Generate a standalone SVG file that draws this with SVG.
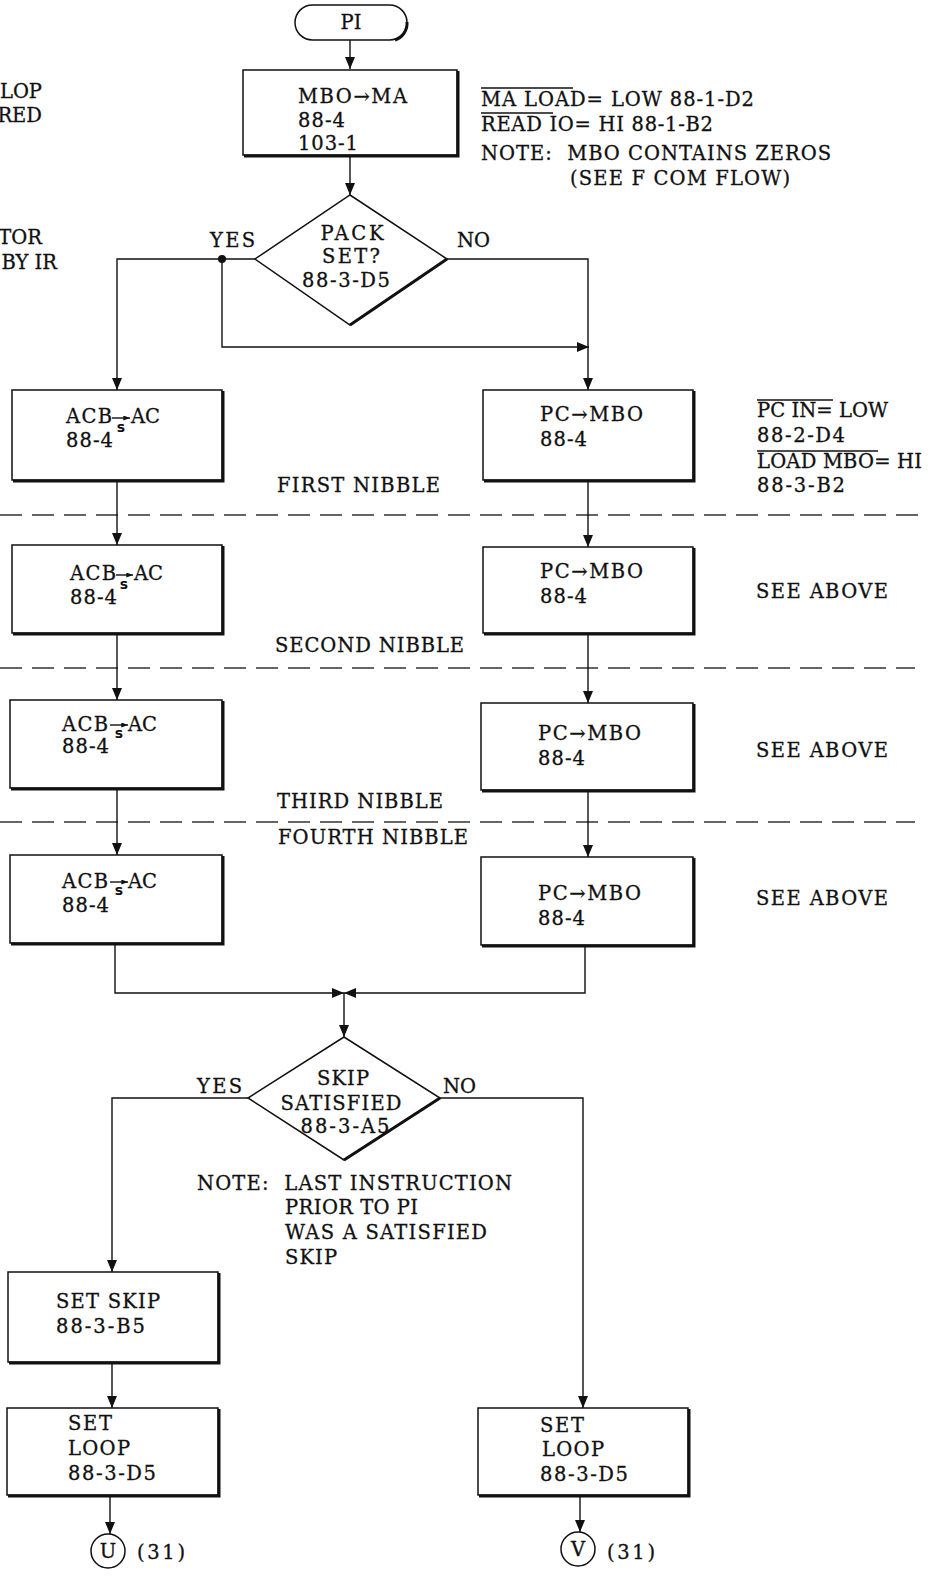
<svg xmlns="http://www.w3.org/2000/svg" width="941" height="1593" viewBox="0 0 941 1593">
<style>
.t{font-family:"DejaVu Serif","Liberation Serif",serif;font-size:19.5px;fill:#111;stroke:#111;stroke-width:0.3}
.s{font-family:"DejaVu Sans","Liberation Sans",sans-serif;font-size:14px;font-weight:bold;fill:#111}
.ln{stroke:#111;stroke-width:1.4;fill:none}
.box{fill:#fff;stroke:#111;stroke-width:1.5}
.sh{stroke:#111;stroke-width:3;fill:none}
.dash{stroke:#333;stroke-width:1.4;stroke-dasharray:22 10;fill:none}
.ov{stroke:#111;stroke-width:1.3}
</style>
<defs>
<marker id="ah" viewBox="0 0 12 10" refX="12" refY="5" markerWidth="12" markerHeight="10" markerUnits="userSpaceOnUse" orient="auto"><path d="M0,0 L12,5 L0,10 z" fill="#111"/></marker>
<marker id="sa" viewBox="0 0 8 6" refX="8" refY="3" markerWidth="7" markerHeight="5" markerUnits="userSpaceOnUse" orient="auto"><path d="M0,0 L8,3 L0,6 z" fill="#111"/></marker>
</defs>
<rect width="941" height="1593" fill="#fff"/>

<g id="edge">
<text class="t" x="42" y="98" text-anchor="end">LOP</text>
<text class="t" x="42" y="122" text-anchor="end">RED</text>
<text class="t" x="42" y="244" text-anchor="end">TOR</text>
<text class="t" x="57" y="269" text-anchor="end">BY IR</text>
</g>

<g id="dividers">
<line class="dash" x1="0" y1="515" x2="918" y2="515"/>
<line class="dash" x1="0" y1="668" x2="915" y2="668"/>
<line class="dash" x1="0" y1="822" x2="915" y2="822"/>
<text class="t" x="277" y="492" textLength="163">FIRST NIBBLE</text>
<text class="t" x="275" y="652" textLength="189">SECOND NIBBLE</text>
<text class="t" x="277" y="808" textLength="166">THIRD NIBBLE</text>
<text class="t" x="278" y="844" textLength="190">FOURTH NIBBLE</text>
</g>

<g id="connectors">
<path class="ln" d="M350,40 V69" marker-end="url(#ah)"/>
<path class="ln" d="M350,155 V195" marker-end="url(#ah)"/>
<path class="ln" d="M255,259 H117 V390" marker-end="url(#ah)"/>
<path class="ln" d="M222,259 V347 H589" marker-end="url(#ah)"/>
<path class="ln" d="M447,259 H588 V390" marker-end="url(#ah)"/>
<circle cx="222" cy="259" r="4" fill="#111"/>
<path class="ln" d="M117,480 V545" marker-end="url(#ah)"/>
<path class="ln" d="M588,480 V547" marker-end="url(#ah)"/>
<path class="ln" d="M117,633 V700" marker-end="url(#ah)"/>
<path class="ln" d="M588,633 V703" marker-end="url(#ah)"/>
<path class="ln" d="M117,788 V855" marker-end="url(#ah)"/>
<path class="ln" d="M588,790 V857" marker-end="url(#ah)"/>
<path class="ln" d="M115,943 V993 H344" marker-end="url(#ah)"/>
<path class="ln" d="M585,945 V993 H344" marker-end="url(#ah)"/>
<path class="ln" d="M344,993 V1037" marker-end="url(#ah)"/>
<path class="ln" d="M248,1098 H112 V1272" marker-end="url(#ah)"/>
<path class="ln" d="M440,1098 H583 V1408" marker-end="url(#ah)"/>
<path class="ln" d="M112,1362 V1408" marker-end="url(#ah)"/>
<path class="ln" d="M110,1495 V1534" marker-end="url(#ah)"/>
<path class="ln" d="M580,1495 V1532" marker-end="url(#ah)"/>
<text class="t" x="210" y="247" textLength="45">YES</text>
<text class="t" x="457" y="247" textLength="33">NO</text>
<text class="t" x="197" y="1093" textLength="45">YES</text>
<text class="t" x="443" y="1093" textLength="33">NO</text>
</g>

<g id="pi">
<rect class="box" x="295" y="5" width="112" height="35" rx="17.5"/>
<path class="sh" d="M395,40 A17.5,17.5 0 0 0 407,22"/>
<text class="t" x="351" y="29" text-anchor="middle">PI</text>
</g>

<g id="mbo-ma">
<rect class="box" x="243" y="70" width="214" height="85"/>
<path class="sh" d="M458,71 V156 H244"/>
<text class="t" x="298" y="103" textLength="109">MBO→MA</text>
<text class="t" x="298" y="127" textLength="47">88-4</text>
<text class="t" x="298" y="150" textLength="60">103-1</text>
</g>

<g id="note1">
<line class="ov" x1="481" y1="88" x2="573" y2="88"/>
<text class="t" x="481" y="106" textLength="273">MA LOAD= LOW 88-1-D2</text>
<line class="ov" x1="481" y1="113" x2="553" y2="113"/>
<text class="t" x="481" y="131" textLength="232">READ IO= HI 88-1-B2</text>
<text class="t" x="481" y="160" textLength="350" xml:space="preserve">NOTE:  MBO CONTAINS ZEROS</text>
<text class="t" x="570" y="185" textLength="220">(SEE F COM FLOW)</text>
</g>

<g id="pack-set">
<path class="box" d="M350,195 L447,259 L350,325 L255,259 Z"/>
<path class="sh" d="M447,259 L350,325"/>
<text class="t" x="352" y="240" text-anchor="middle" textLength="63">PACK</text>
<text class="t" x="351" y="263" text-anchor="middle" textLength="58">SET?</text>
<text class="t" x="346" y="287" text-anchor="middle" textLength="88">88-3-D5</text>
</g>

<g id="acb1">
<rect class="box" x="12" y="390" width="210" height="90"/>
<path class="sh" d="M223,391 V481 H13"/>
<text class="t" x="66" y="423" textLength="46">ACB</text>
<line class="ln" x1="112" y1="418" x2="130" y2="418" marker-end="url(#sa)"/>
<text class="s" x="121" y="432" text-anchor="middle">s</text>
<text class="t" x="131" y="423">AC</text>
<text class="t" x="66" y="447" textLength="47">88-4</text>
</g>

<g id="pc1">
<rect class="box" x="483" y="390" width="210" height="90"/>
<path class="sh" d="M694,391 V481 H484"/>
<text class="t" x="540" y="421" textLength="103">PC→MBO</text>
<text class="t" x="540" y="446" textLength="47">88-4</text>
</g>

<g id="note2">
<line class="ov" x1="757" y1="400" x2="833" y2="400"/>
<text class="t" x="757" y="417" textLength="131">PC IN= LOW</text>
<text class="t" x="757" y="442" textLength="88">88-2-D4</text>
<line class="ov" x1="757" y1="451" x2="878" y2="451"/>
<text class="t" x="757" y="468" textLength="165">LOAD MBO= HI</text>
<text class="t" x="757" y="492" textLength="88">88-3-B2</text>
</g>

<g id="acb2">
<rect class="box" x="12" y="545" width="210" height="88"/>
<path class="sh" d="M223,546 V634 H13"/>
<text class="t" x="70" y="580" textLength="46">ACB</text>
<line class="ln" x1="116" y1="575" x2="133" y2="575" marker-end="url(#sa)"/>
<text class="s" x="124" y="589" text-anchor="middle">s</text>
<text class="t" x="134" y="580">AC</text>
<text class="t" x="70" y="604" textLength="47">88-4</text>
</g>

<g id="pc2">
<rect class="box" x="483" y="547" width="210" height="86"/>
<path class="sh" d="M694,548 V634 H484"/>
<text class="t" x="540" y="578" textLength="103">PC→MBO</text>
<text class="t" x="540" y="603" textLength="47">88-4</text>
<text class="t" x="756" y="598" textLength="132">SEE ABOVE</text>
</g>

<g id="acb3">
<rect class="box" x="10" y="700" width="212" height="88"/>
<path class="sh" d="M223,701 V789 H11"/>
<text class="t" x="62" y="731" textLength="46">ACB</text>
<line class="ln" x1="110" y1="725" x2="128" y2="725" marker-end="url(#sa)"/>
<text class="s" x="119" y="738" text-anchor="middle">s</text>
<text class="t" x="128" y="731">AC</text>
<text class="t" x="62" y="753" textLength="47">88-4</text>
</g>

<g id="pc3">
<rect class="box" x="481" y="703" width="212" height="87"/>
<path class="sh" d="M694,704 V791 H482"/>
<text class="t" x="538" y="740" textLength="103">PC→MBO</text>
<text class="t" x="538" y="765" textLength="47">88-4</text>
<text class="t" x="756" y="757" textLength="132">SEE ABOVE</text>
</g>

<g id="acb4">
<rect class="box" x="10" y="855" width="212" height="88"/>
<path class="sh" d="M223,856 V944 H11"/>
<text class="t" x="62" y="888" textLength="46">ACB</text>
<line class="ln" x1="110" y1="882" x2="128" y2="882" marker-end="url(#sa)"/>
<text class="s" x="119" y="895" text-anchor="middle">s</text>
<text class="t" x="128" y="888">AC</text>
<text class="t" x="62" y="912" textLength="47">88-4</text>
</g>

<g id="pc4">
<rect class="box" x="481" y="857" width="212" height="88"/>
<path class="sh" d="M694,858 V946 H482"/>
<text class="t" x="538" y="900" textLength="103">PC→MBO</text>
<text class="t" x="538" y="925" textLength="47">88-4</text>
<text class="t" x="756" y="905" textLength="132">SEE ABOVE</text>
</g>

<g id="skip-satisfied">
<path class="box" d="M344,1037 L440,1098 L344,1160 L248,1098 Z"/>
<path class="sh" d="M440,1098 L344,1160"/>
<text class="t" x="343" y="1085" text-anchor="middle" textLength="52">SKIP</text>
<text class="t" x="341" y="1110" text-anchor="middle" textLength="121">SATISFIED</text>
<text class="t" x="345" y="1133" text-anchor="middle" textLength="89">88-3-A5</text>
</g>

<g id="note3">
<text class="t" x="197" y="1190" textLength="315" xml:space="preserve">NOTE:  LAST INSTRUCTION</text>
<text class="t" x="285" y="1214" textLength="133">PRIOR TO PI</text>
<text class="t" x="285" y="1239" textLength="202">WAS A SATISFIED</text>
<text class="t" x="285" y="1264" textLength="52">SKIP</text>
</g>

<g id="set-skip">
<rect class="box" x="8" y="1272" width="210" height="90"/>
<path class="sh" d="M219,1273 V1363 H9"/>
<text class="t" x="56" y="1308" textLength="104">SET SKIP</text>
<text class="t" x="56" y="1333" textLength="89">88-3-B5</text>
</g>

<g id="set-loop-l">
<rect class="box" x="7" y="1408" width="211" height="87"/>
<path class="sh" d="M219,1409 V1496 H8"/>
<text class="t" x="68" y="1430" textLength="44">SET</text>
<text class="t" x="68" y="1455" textLength="62">LOOP</text>
<text class="t" x="68" y="1480" textLength="88">88-3-D5</text>
</g>

<g id="set-loop-r">
<rect class="box" x="478" y="1408" width="210" height="87"/>
<path class="sh" d="M689,1409 V1496 H479"/>
<text class="t" x="540" y="1432" textLength="44">SET</text>
<text class="t" x="542" y="1456" textLength="62">LOOP</text>
<text class="t" x="540" y="1481" textLength="88">88-3-D5</text>
</g>

<g id="conn-u">
<circle class="box" cx="108" cy="1551" r="17"/>
<text class="t" x="108" y="1558" text-anchor="middle">U</text>
<text class="t" x="137" y="1559" font-size="21" textLength="48">(31)</text>
</g>

<g id="conn-v">
<circle class="box" cx="578" cy="1549" r="17"/>
<text class="t" x="578" y="1556" text-anchor="middle">V</text>
<text class="t" x="607" y="1559" font-size="21" textLength="48">(31)</text>
</g>
</svg>
